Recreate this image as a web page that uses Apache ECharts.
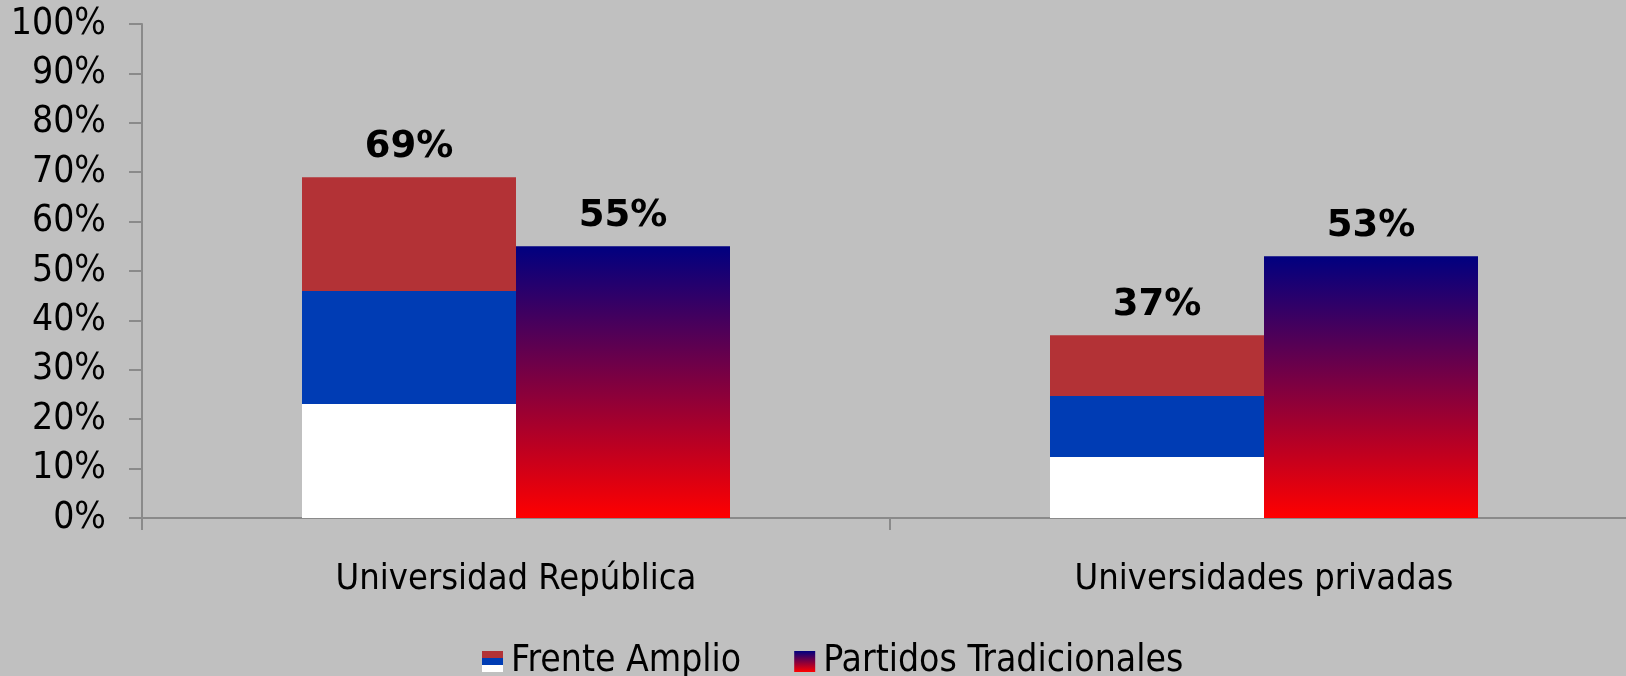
<!DOCTYPE html>
<html>
<head>
<meta charset="utf-8">
<script src="https://cdn.jsdelivr.net/npm/echarts@6/dist/echarts.min.js"></script>
<style>
  html, body { margin: 0; padding: 0; background: #c0c0c0; }
  #chart { width: 1626px; height: 676px; }
</style>
</head>
<body>
<div id="chart"></div>
<script>
const categories = ['Universidad República', 'Universidades privadas']
const frenteAmplio = [69, 37]
const partidosTradicionales = [55, 53]
const seriesNames = ['Frente Amplio', 'Partidos Tradicionales']

const textFont = "'DejaVu Sans Condensed', 'DejaVu Sans', sans-serif"
const axisColor = '#8a8a8a'

// bandera del FA: rojo, azul, blanco en tercios
const faColor = new echarts.graphic.LinearGradient(0, 0, 0, 1, [
  { offset: 0, color: '#b33236' },
  { offset: 0.333, color: '#b33236' },
  { offset: 0.333, color: '#003cb4' },
  { offset: 0.667, color: '#003cb4' },
  { offset: 0.667, color: '#ffffff' },
  { offset: 1, color: '#ffffff' }
])
const ptColor = new echarts.graphic.LinearGradient(0, 0, 0, 1, [
  { offset: 0, color: '#000080' },
  { offset: 1, color: '#ff0000' }
])

const barLabel = {
  show: true,
  position: 'top',
  distance: 11,
  formatter: '{c}%',
  color: '#000',
  fontFamily: 'DejaVu Sans',
  fontWeight: 'bold',
  fontSize: 37
}

const myChart = echarts.init(document.getElementById('chart'))
myChart.setOption({
  backgroundColor: '#c0c0c0',
  animation: false,
  grid: {
    left: 142,
    right: -12,
    top: 24,
    bottom: 158,
    containLabel: false,
    outerBoundsMode: 'none'
  },
  legend: {
    data: seriesNames,
    left: 482,
    top: 643,
    padding: 0,
    icon: 'rect',
    itemWidth: 21,
    itemHeight: 21,
    itemGap: 53,
    textStyle: {
      fontFamily: textFont,
      fontSize: 37,
      color: '#000',
      padding: [0, 0, 0, 3]
    }
  },
  xAxis: {
    type: 'category',
    data: categories,
    axisLine: { lineStyle: { color: axisColor, width: 2 } },
    axisTick: { show: true, length: 12, lineStyle: { color: axisColor, width: 2 } },
    axisLabel: {
      margin: 44,
      color: '#000',
      fontFamily: textFont,
      fontSize: 36
    }
  },
  yAxis: {
    type: 'value',
    min: 0,
    max: 100,
    interval: 10,
    axisLine: { show: true, lineStyle: { color: axisColor, width: 2 } },
    axisTick: { show: true, length: 13, lineStyle: { color: axisColor, width: 2 } },
    splitLine: { show: false },
    axisLabel: {
      formatter: '{value}%',
      margin: 36,
      color: '#000',
      fontFamily: textFont,
      fontSize: 37
    }
  },
  series: [
    {
      name: seriesNames[0],
      type: 'bar',
      data: frenteAmplio,
      barWidth: 214,
      barGap: '0%',
      itemStyle: { color: faColor },
      label: barLabel
    },
    {
      name: seriesNames[1],
      type: 'bar',
      data: partidosTradicionales,
      barWidth: 214,
      barGap: '0%',
      itemStyle: { color: ptColor },
      label: barLabel
    }
  ]
})
</script>
</body>
</html>
